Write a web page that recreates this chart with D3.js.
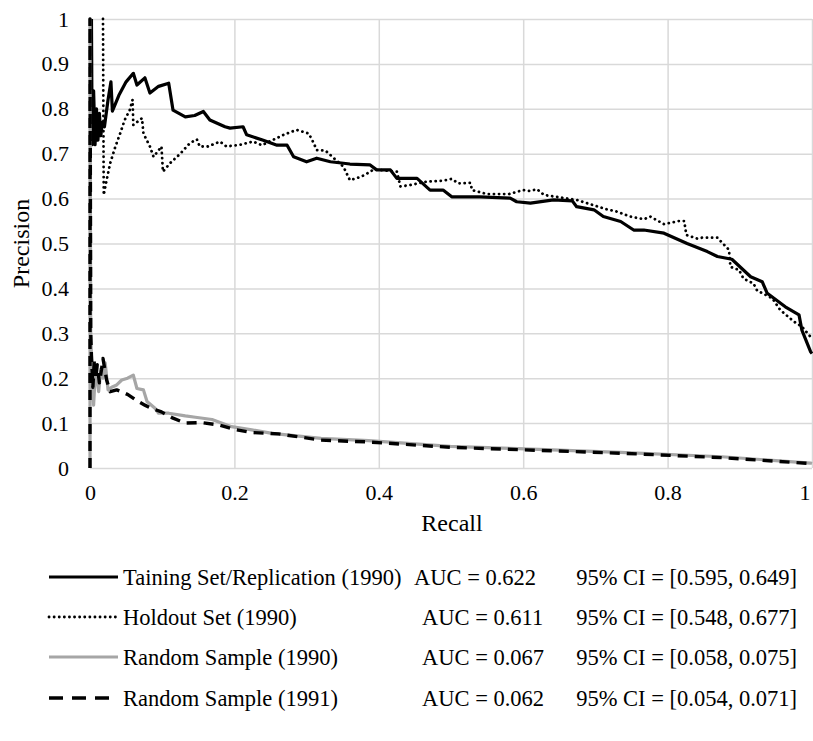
<!DOCTYPE html>
<html>
<head>
<meta charset="utf-8">
<script src="https://cdn.jsdelivr.net/npm/d3@7"></script>
<style>
  body { margin: 0; background: #fff; }
  svg text { font-family: "Liberation Serif", "DejaVu Serif", serif; fill: #000; }
</style>
</head>
<body>
<div id="chart"></div>
<script>
// PR curves, values
const recallTrain = [0.002, 0.003, 0.005, 0.007, 0.009, 0.011, 0.013, 0.015, 0.017, 0.02, 0.025, 0.029, 0.031, 0.04, 0.05, 0.06, 0.065, 0.076, 0.083, 0.095, 0.109, 0.115, 0.132, 0.145, 0.157, 0.166, 0.187, 0.194, 0.212, 0.217, 0.24, 0.259, 0.273, 0.282, 0.3, 0.314, 0.333, 0.36, 0.388, 0.397, 0.416, 0.425, 0.453, 0.471, 0.489, 0.501, 0.54, 0.582, 0.591, 0.61, 0.642, 0.668, 0.674, 0.698, 0.711, 0.735, 0.753, 0.767, 0.795, 0.827, 0.855, 0.869, 0.889, 0.915, 0.931, 0.938, 0.963, 0.982, 0.986, 0.998, 1.0];
const precTrain = [1.0, 0.72, 0.84, 0.72, 0.8, 0.73, 0.79, 0.74, 0.77, 0.76, 0.82, 0.86, 0.795, 0.83, 0.86, 0.879, 0.853, 0.869, 0.835, 0.85, 0.857, 0.797, 0.782, 0.785, 0.794, 0.775, 0.76, 0.757, 0.76, 0.742, 0.73, 0.719, 0.719, 0.693, 0.682, 0.69, 0.682, 0.677, 0.675, 0.664, 0.664, 0.645, 0.645, 0.619, 0.619, 0.604, 0.604, 0.601, 0.593, 0.59, 0.597, 0.595, 0.582, 0.575, 0.56, 0.549, 0.53, 0.53, 0.523, 0.5, 0.482, 0.471, 0.465, 0.426, 0.415, 0.389, 0.359, 0.341, 0.307, 0.259, 0.255];

const recallHold = [0.018, 0.019, 0.023, 0.028, 0.035, 0.042, 0.048, 0.055, 0.059, 0.06, 0.072, 0.074, 0.083, 0.088, 0.099, 0.101, 0.111, 0.125, 0.138, 0.148, 0.152, 0.163, 0.18, 0.189, 0.208, 0.226, 0.238, 0.268, 0.286, 0.303, 0.31, 0.314, 0.326, 0.351, 0.36, 0.372, 0.381, 0.393, 0.425, 0.43, 0.443, 0.467, 0.49, 0.501, 0.51, 0.527, 0.529, 0.55, 0.58, 0.591, 0.6, 0.61, 0.619, 0.629, 0.674, 0.716, 0.73, 0.748, 0.767, 0.776, 0.795, 0.804, 0.815, 0.823, 0.826, 0.841, 0.848, 0.869, 0.873, 0.885, 0.887, 0.899, 0.905, 0.919, 0.924, 0.945, 0.956, 0.975, 0.986, 0.998, 1.0];
const precHold = [1.0, 0.608, 0.641, 0.679, 0.715, 0.746, 0.775, 0.797, 0.82, 0.764, 0.779, 0.745, 0.716, 0.693, 0.716, 0.66, 0.679, 0.7, 0.723, 0.732, 0.716, 0.716, 0.727, 0.716, 0.72, 0.727, 0.719, 0.742, 0.753, 0.745, 0.723, 0.708, 0.707, 0.671, 0.641, 0.647, 0.653, 0.665, 0.66, 0.627, 0.63, 0.638, 0.64, 0.644, 0.634, 0.635, 0.619, 0.61, 0.61, 0.615, 0.619, 0.617, 0.621, 0.608, 0.597, 0.576, 0.571, 0.56, 0.554, 0.56, 0.543, 0.546, 0.55, 0.55, 0.519, 0.511, 0.513, 0.513, 0.506, 0.486, 0.448, 0.441, 0.422, 0.411, 0.395, 0.378, 0.352, 0.326, 0.315, 0.292, 0.285];

const recallR90 = [0, 0, 0.001, 0.003, 0.005, 0.007, 0.009, 0.012, 0.015, 0.018, 0.021, 0.025, 0.03, 0.037, 0.044, 0.052, 0.06, 0.065, 0.074, 0.079, 0.09, 0.095, 0.109, 0.132, 0.146, 0.169, 0.196, 0.224, 0.252, 0.32, 0.386, 0.499, 0.593, 0.734, 0.875, 0.998, 1.0];
const precR90 = [0, 1, 0.3, 0.2, 0.14, 0.2, 0.21, 0.17, 0.22, 0.2, 0.234, 0.174, 0.18, 0.185, 0.196, 0.2, 0.207, 0.177, 0.174, 0.148, 0.133, 0.122, 0.122, 0.116, 0.113, 0.108, 0.092, 0.085, 0.077, 0.066, 0.061, 0.048, 0.043, 0.035, 0.025, 0.011, 0.01];

const recallR91 = [0, 0, 0.001, 0.002, 0.004, 0.006, 0.008, 0.01, 0.013, 0.016, 0.018, 0.023, 0.028, 0.037, 0.044, 0.053, 0.067, 0.076, 0.085, 0.099, 0.115, 0.132, 0.155, 0.178, 0.203, 0.224, 0.261, 0.32, 0.386, 0.499, 0.593, 0.734, 0.875, 0.998, 1.0];
const precR91 = [0, 1, 0.3, 0.25, 0.18, 0.24, 0.2, 0.23, 0.19, 0.22, 0.244, 0.196, 0.17, 0.174, 0.17, 0.163, 0.148, 0.14, 0.133, 0.125, 0.111, 0.1, 0.101, 0.096, 0.085, 0.079, 0.076, 0.062, 0.058, 0.046, 0.041, 0.033, 0.023, 0.01, 0.009];

const xTicks = [0, 0.2, 0.4, 0.6, 0.8, 1];
const yTicks = [0, 0.1, 0.2, 0.3, 0.4, 0.5, 0.6, 0.7, 0.8, 0.9, 1];

const seriesNames = ['Taining Set/Replication (1990)', 'Holdout Set (1990)', 'Random Sample (1990)', 'Random Sample (1991)'];
const aucLabels = ['AUC = 0.622', 'AUC = 0.611', 'AUC = 0.067', 'AUC = 0.062'];
const ciLabels = ['95% CI = [0.595, 0.649]', '95% CI = [0.548, 0.677]', '95% CI = [0.058, 0.075]', '95% CI = [0.054, 0.071]'];

// series styles
const styles = [
  { stroke: '#000', width: 3.2, dash: null, cap: 'butt' },
  { stroke: '#000', width: 2.8, dash: '0.1,5', cap: 'round' },
  { stroke: '#a6a6a6', width: 3.2, dash: null, cap: 'butt' },
  { stroke: '#000', width: 3.4, dash: '10,7', cap: 'butt' }
];

const series = [
  recallTrain.map((r, i) => [r, precTrain[i]]),
  recallHold.map((r, i) => [r, precHold[i]]),
  recallR90.map((r, i) => [r, precR90[i]]),
  recallR91.map((r, i) => [r, precR91[i]])
];

const W = 813, H = 741;
const margin = { top: 19, right: 1, bottom: 273, left: 90 };
const width = W - margin.left - margin.right;
const height = H - margin.top - margin.bottom;

const svg = d3.select('#chart').append('svg')
  .attr('width', W)
  .attr('height', H);

const g = svg.append('g')
  .attr('transform', `translate(${margin.left},${margin.top})`);

const x = d3.scaleLinear().domain([0, 1]).range([0, width]);
const y = d3.scaleLinear().domain([0, 1]).range([height, 0]);

// gridlines
g.append('g')
  .call(d3.axisLeft(y).tickValues(yTicks).tickSize(-width).tickFormat(''))
  .call(a => a.select('.domain').remove())
  .call(a => a.selectAll('line').attr('stroke', '#d9d9d9').attr('stroke-width', 1.5));

g.append('g')
  .attr('transform', `translate(0,${height})`)
  .call(d3.axisBottom(x).tickValues(xTicks).tickSize(-height).tickFormat(''))
  .call(a => a.select('.domain').remove())
  .call(a => a.selectAll('line').attr('stroke', '#d9d9d9').attr('stroke-width', 1.5));

// tick labels
g.append('g')
  .call(d3.axisLeft(y).tickValues(yTicks).tickSize(0).tickPadding(21).tickFormat(d3.format('~g')))
  .call(a => a.select('.domain').remove())
  .call(a => a.selectAll('text').style('font-size', '22px').attr('fill', '#000'));

g.append('g')
  .attr('transform', `translate(0,${height})`)
  .call(d3.axisBottom(x).tickValues(xTicks).tickSize(0).tickPadding(16).tickFormat(d3.format('~g')))
  .call(a => a.select('.domain').remove())
  .call(a => a.selectAll('text').style('font-size', '22px').attr('fill', '#000'))
  // last label sits on the right edge; keep it inside the page
  .call(a => a.selectAll('text').filter(d => d === 1).attr('text-anchor', 'end').attr('dx', '-2'));

// axis titles
svg.append('text')
  .attr('x', 452)
  .attr('y', 531)
  .attr('text-anchor', 'middle')
  .style('font-size', '24px')
  .text('Recall');

svg.append('text')
  .attr('transform', `translate(29,${margin.top + height / 2}) rotate(-90)`)
  .attr('text-anchor', 'middle')
  .style('font-size', '24px')
  .text('Precision');

// curves
const line = d3.line().x(d => x(d[0])).y(d => y(d[1]));

series.forEach((s, i) => {
  g.append('path')
    .datum(s)
    .attr('d', line)
    .attr('fill', 'none')
    .attr('stroke', styles[i].stroke)
    .attr('stroke-width', styles[i].width)
    .attr('stroke-linecap', styles[i].cap)
    .attr('stroke-linejoin', 'round')
    .attr('stroke-dasharray', styles[i].dash);
});

// legend
const legendY = [577, 617, 657, 698];
const aucX = [414, 422, 422, 422];

const legend = svg.append('g');
seriesNames.forEach((name, i) => {
  const row = legend.append('g');
  row.append('line')
    .attr('x1', 49).attr('x2', 118)
    .attr('y1', legendY[i]).attr('y2', legendY[i])
    .attr('stroke', styles[i].stroke)
    .attr('stroke-width', styles[i].width)
    .attr('stroke-linecap', styles[i].cap)
    .attr('stroke-dasharray', i === 3 ? '14,9' : styles[i].dash);
  row.append('text')
    .attr('x', 123).attr('y', legendY[i] + 8)
    .style('font-size', '22.5px')
    .text(name);
  row.append('text')
    .attr('x', aucX[i]).attr('y', legendY[i] + 8)
    .style('font-size', '22.5px')
    .text(aucLabels[i]);
  row.append('text')
    .attr('x', 797).attr('y', legendY[i] + 8)
    .attr('text-anchor', 'end')
    .style('font-size', '22.5px')
    .text(ciLabels[i]);
});
</script>
</body>
</html>
